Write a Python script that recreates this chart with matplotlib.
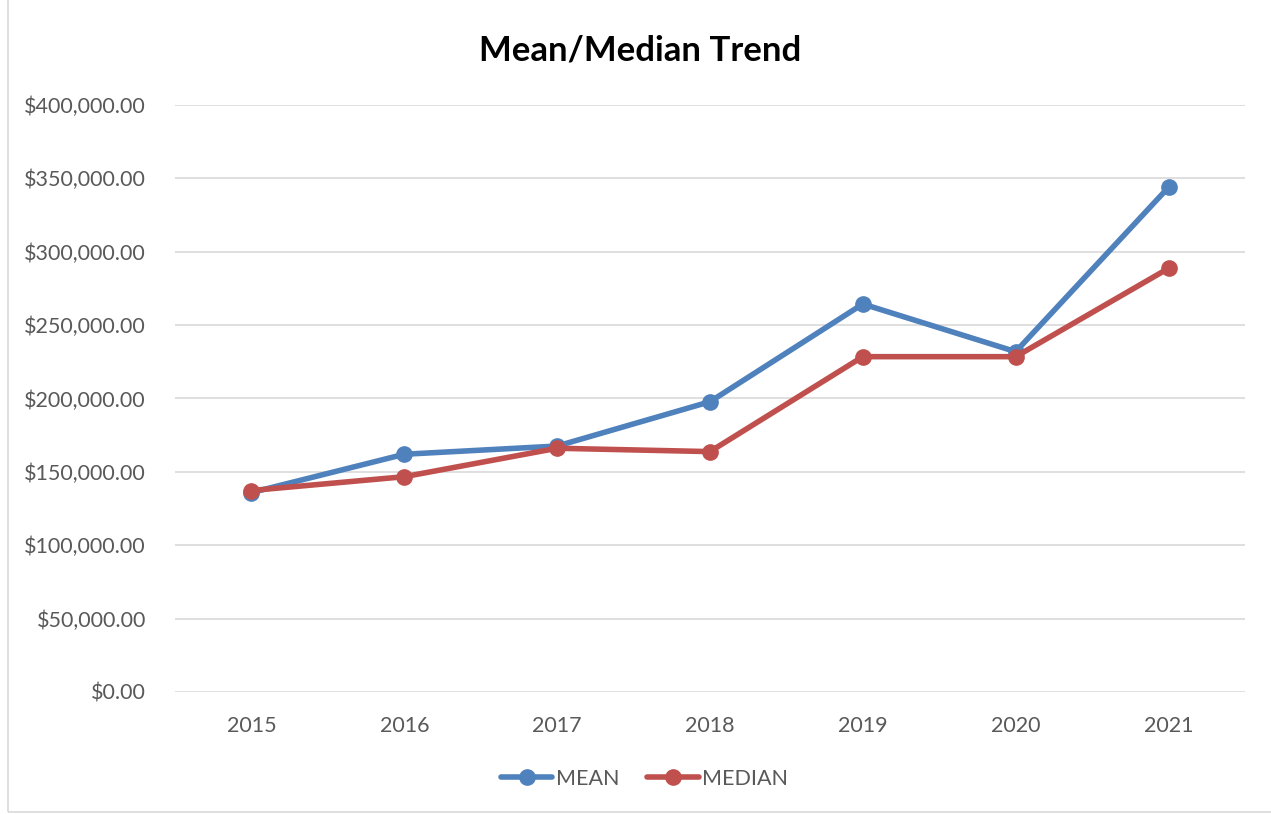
import matplotlib
matplotlib.use('Agg')
import matplotlib.pyplot as plt
from matplotlib.patches import Rectangle
from matplotlib.ticker import FuncFormatter

plt.rcParams['font.family'] = ['Lato', 'DejaVu Sans']

years = ['2015', '2016', '2017', '2018', '2019', '2020', '2021']
mean_vals = [135900, 162000, 167600, 197800, 264400, 231900, 343900]
median_vals = [137300, 146700, 166100, 163800, 228500, 228500, 288700]

blue = '#4F81BD'
red = '#C0504D'
grey_text = '#595959'

fig = plt.figure(figsize=(12.71, 8.14), dpi=100)
ax = fig.add_axes([0.1377, 0.1499, 0.8418, 0.7211])

x = list(range(len(years)))
ax.plot(x, mean_vals, color=blue, lw=4, marker='o', ms=11, label='MEAN',
        solid_capstyle='round', zorder=3)
ax.plot(x, median_vals, color=red, lw=4, marker='o', ms=11, label='MEDIAN',
        solid_capstyle='round', zorder=4)

ax.set_xlim(-0.5, len(years) - 0.5)
ax.set_ylim(0, 400000)
ax.set_yticks(range(0, 400001, 50000))
ax.yaxis.set_major_formatter(FuncFormatter(lambda v, p: '${:,.2f}'.format(v)))
ax.set_xticks(x)
ax.set_xticklabels(years)
ax.tick_params(length=0, labelsize=15.5, labelcolor=grey_text)
ax.tick_params(axis='x', pad=17)
ax.tick_params(axis='y', pad=21)
ax.grid(axis='y', color='#D9D9D9', lw=1.2)
ax.set_axisbelow(True)
for s in ax.spines.values():
    s.set_visible(False)

fig.text(0.504, 0.938, 'Mean/Median Trend', ha='center', va='center',
         fontsize=25, fontweight='bold', color='black')

leg = fig.legend(*ax.get_legend_handles_labels(), loc='center',
                 bbox_to_anchor=(0.507, 0.043), ncol=2, frameon=False,
                 fontsize=15.5, handlelength=2.4, columnspacing=1.3,
                 handletextpad=0.15)
for t in leg.get_texts():
    t.set_color(grey_text)

fig.patches.append(Rectangle((0.006, 0.003), 1.2, 1.2, transform=fig.transFigure,
                             fill=False, edgecolor='#D9D9D9', lw=1.2))

fig.savefig('out.png', dpi=100)
